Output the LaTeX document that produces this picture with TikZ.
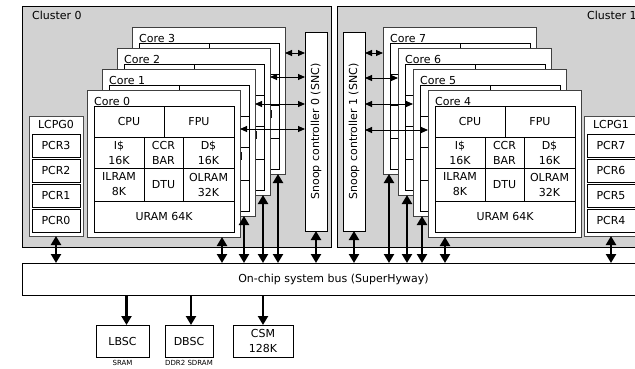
\documentclass[tikz,border=0pt]{standalone}
\usepackage{fontspec}
\setmainfont{DejaVu Sans}
\usetikzlibrary{arrows.meta,positioning,calc}
\definecolor{clustergray}{RGB}{210,210,210}

% one core: #1 name, #2/#3 top left corner, #4 number
\newcommand{\corebox}[4]{%
  \node[coreframe] (#1) at (#2,#3) {};
  \node[cell, minimum width=70pt, minimum height=31pt] (#1cpu) at ($(#1.north west)+(7,16)$) {CPU};
  \node[cell, minimum width=70pt, minimum height=31pt] (#1fpu) at (#1cpu.north east) {FPU};
  \node[cell, minimum width=50pt, minimum height=31pt] (#1ic) at (#1cpu.south west) {I\$\\16K};
  \node[cell, minimum width=39pt, minimum height=31pt] (#1ccr) at (#1ic.north east) {CCR\\BAR};
  \node[cell, minimum width=51pt, minimum height=31pt] (#1dc) at (#1ccr.north east) {D\$\\16K};
  \node[cell, minimum width=50pt, minimum height=33pt] (#1il) at (#1ic.south west) {ILRAM\\8K};
  \node[cell, minimum width=39pt, minimum height=33pt] (#1dtu) at (#1il.north east) {DTU};
  \node[cell, minimum width=51pt, minimum height=33pt] (#1ol) at (#1dtu.north east) {OLRAM\\32K};
  \node[cell, minimum width=140pt, minimum height=31pt] (#1uram) at (#1il.south west) {URAM 64K};
  \node[anchor=base west, inner sep=0pt] (#1label) at ([yshift=1pt]#1cpu.north west) {Core #4};
}

\begin{document}
\begin{tikzpicture}[
    x=1pt, y=-1pt,
    font=\fontsize{11}{15}\selectfont,
    cluster/.style={draw, fill=clustergray, anchor=north west, inner sep=0pt, outer sep=0pt, line width=0.7pt},
    coreframe/.style={draw=black!75, fill=white, anchor=north west, minimum width=153pt, minimum height=147pt, inner sep=0pt, outer sep=0pt},
    cell/.style={draw, anchor=north west, align=center, inner sep=0pt, outer sep=0pt},
    box/.style={draw, fill=white, align=center, inner sep=0pt, outer sep=0pt},
    snc/.style={box, minimum width=22pt, minimum height=199pt},
    lcpg/.style={box, draw=black!70, anchor=north west, minimum width=54pt, minimum height=120pt},
    pcr/.style={box, anchor=north west, minimum width=48pt, minimum height=23pt},
    mem/.style={box, anchor=north west, minimum height=32pt},
    memnote/.style={inner sep=0pt, font=\fontsize{7}{8}\selectfont},
    snoop/.style={{Triangle[length=7pt,width=6pt]}-{Triangle[length=7pt,width=6pt]}, line width=0.9pt},
    fat/.style={-{Triangle[length=9pt,width=10pt]}, line width=2.8pt},
    fatboth/.style={{Triangle[length=9pt,width=10pt]}-{Triangle[length=9pt,width=10pt]}, line width=2.8pt}
  ]
  \clip (0,0) rectangle (635,368);

  \node[cluster, minimum width=309pt, minimum height=241pt] (cl0) at (22,6) {};
  \node[cluster, minimum width=308pt, minimum height=241pt] (cl1) at (337,6) {};
  \node[anchor=base west, inner sep=0pt] (cl0label) at (32,19) {Cluster 0};
  \node[anchor=base west, inner sep=0pt] (cl1label) at (587,19) {Cluster 1};

  % cores, back to front
  \corebox{core3}{132}{27}{3}
  \corebox{core2}{117}{48}{2}
  \corebox{core1}{102}{69}{1}
  \corebox{core0}{87}{90}{0}
  \corebox{core7}{383}{27}{7}
  \corebox{core6}{398}{48}{6}
  \corebox{core5}{413}{69}{5}
  \corebox{core4}{428}{90}{4}

  \node[snc] (snc0) at (316,131.5) {\rotatebox{90}{Snoop controller 0 (SNC)}};
  \node[snc] (snc1) at (354,131.5) {\rotatebox{90}{Snoop controller 1 (SNC)}};

  % power control
  \node[lcpg] (lcpg0) at (29,116) {};
  \node[inner sep=0pt] (lcpg0label) at (56,124) {LCPG0};
  \node[pcr] (pcr3) at (32,134) {PCR3};
  \node[pcr, below=2pt of pcr3] (pcr2) {PCR2};
  \node[pcr, below=2pt of pcr2] (pcr1) {PCR1};
  \node[pcr, below=2pt of pcr1] (pcr0) {PCR0};
  \node[lcpg] (lcpg1) at (584,116) {};
  \node[inner sep=0pt] (lcpg1label) at (611,124) {LCPG1};
  \node[pcr] (pcr7) at (587,134) {PCR7};
  \node[pcr, below=2pt of pcr7] (pcr6) {PCR6};
  \node[pcr, below=2pt of pcr6] (pcr5) {PCR5};
  \node[pcr, below=2pt of pcr5] (pcr4) {PCR4};

  \node[box, anchor=north west, minimum width=623pt, minimum height=32pt] (bus) at (22,263) {On-chip system bus (SuperHyway)};

  \node[mem, minimum width=53pt] (lbsc) at (96,325) {LBSC};
  \node[mem, minimum width=48pt] (dbsc) at (165,325) {DBSC};
  \node[mem, minimum width=60pt] (csm) at (233,325) {CSM\\128K};
  \node[memnote, below=3pt of lbsc] (sram) {SRAM};
  \node[memnote, below=3pt of dbsc] (ddr) {DDR2 SDRAM};

  % snoop links
  \foreach \c/\d in {core3/26, core2/29, core1/35, core0/39}
    \draw[snoop] ([yshift=-\d pt]\c.north east) coordinate (tmp) -- (tmp -| snc0.west);
  \foreach \c/\d in {core7/26, core6/30, core5/35, core4/40}
    \draw[snoop] ([yshift=-\d pt]\c.north west) coordinate (tmp) -- (tmp -| snc1.east);

  % bus links
  \foreach \c/\s in {core0/-18, core1/-11, core2/-7, core3/-7}
    \draw[fatboth] ([xshift=\s pt]\c.south east) coordinate (tmp) -- (tmp |- bus.north);
  \foreach \c/\s in {core4/17, core5/9, core6/9, core7/6}
    \draw[fatboth] ([xshift=\s pt]\c.south west) coordinate (tmp) -- (tmp |- bus.north);
  \draw[fatboth] (snc0.south) -- (snc0.south |- bus.north);
  \draw[fatboth] (snc1.south) -- (snc1.south |- bus.north);
  \draw[fatboth] (lcpg0.south) -- (lcpg0.south |- bus.north);
  \draw[fatboth] (lcpg1.south) -- (lcpg1.south |- bus.north);

  \draw[fat] ([xshift=4pt]lbsc.north |- bus.south) -- ([xshift=4pt]lbsc.north);
  \draw[fat] ([xshift=2pt]dbsc.north |- bus.south) -- ([xshift=2pt]dbsc.north);
  \draw[fat] (csm.north |- bus.south) -- (csm.north);
\end{tikzpicture}
\end{document}
